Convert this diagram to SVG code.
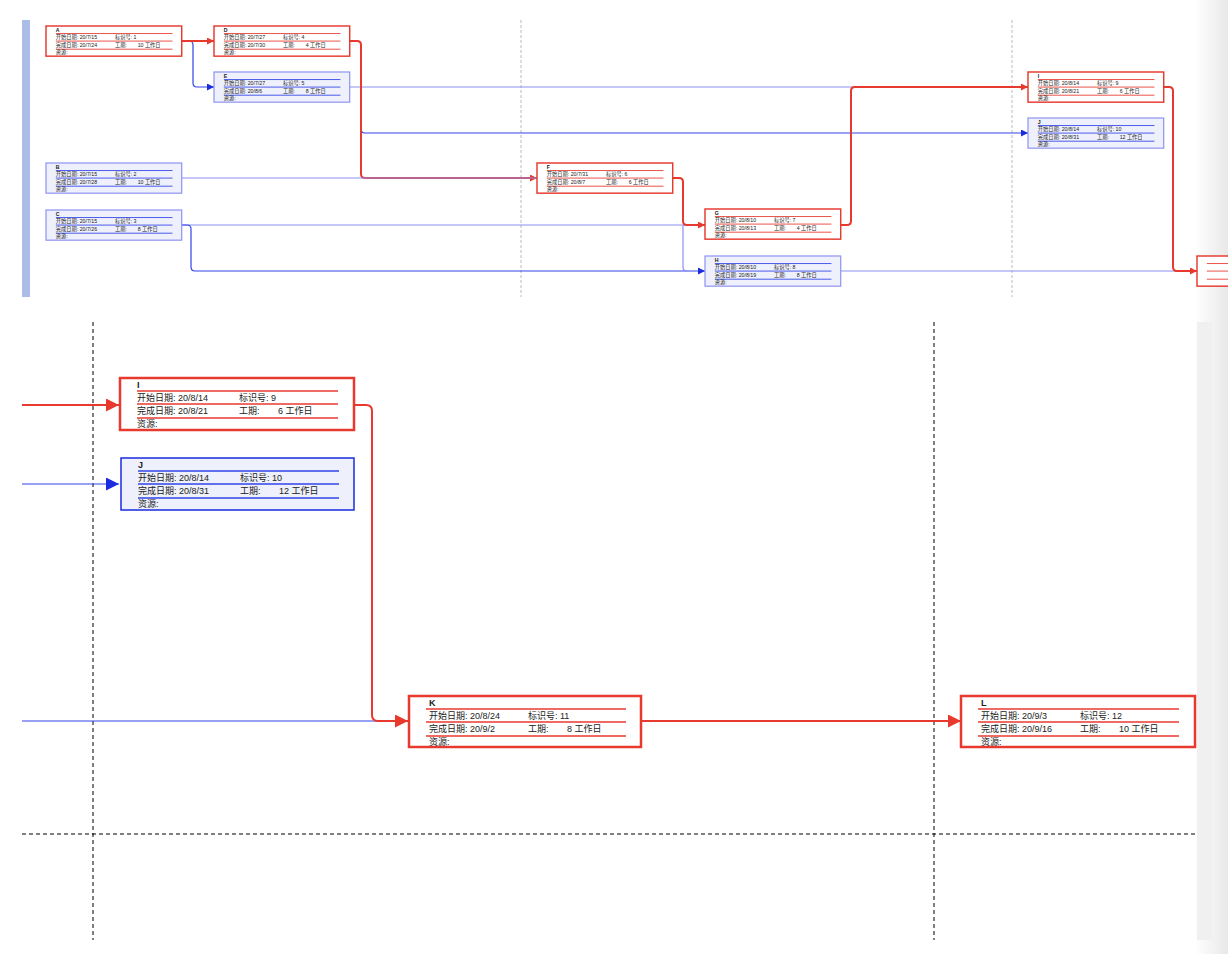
<svg xmlns="http://www.w3.org/2000/svg" width="1228" height="954" viewBox="0 0 1228 954">
<style>
.t{font-family:"Liberation Sans","Noto Sans CJK SC",sans-serif;font-size:9px;fill:#222}
.h{font-weight:bold}
.rb{fill:#fff;stroke:#e8392e;stroke-width:2.5}
.bb{fill:#eef0fc;stroke:#8a8ff0;stroke-width:2}
.bB{fill:#eef0fb;stroke:#1a2be0;stroke-width:1.5}
.rl{stroke:#e8392e;stroke-width:1.5}
.bl{stroke:#3344e8;stroke-width:1.5}
.r{fill:none;stroke:#e8392e;stroke-width:2}
.b{fill:none;stroke:#3344e8;stroke-width:1.2}
.bs{fill:none;stroke:#8a8ff0;stroke-width:1.2}
.d{stroke:#000;stroke-width:1;stroke-dasharray:4 3}
.g{stroke:#bbb;stroke-width:1;stroke-dasharray:3 2}
</style>
<defs>
<marker id="ar" viewBox="0 0 10 10" refX="10" refY="5" markerWidth="7" markerHeight="7" markerUnits="userSpaceOnUse" orient="auto"><path d="M0,0L10,5L0,10z" fill="#e8392e"/></marker>
<marker id="ab" viewBox="0 0 10 10" refX="10" refY="5" markerWidth="7" markerHeight="7" markerUnits="userSpaceOnUse" orient="auto"><path d="M0,0L10,5L0,10z" fill="#1a2be0"/></marker>
<marker id="AR" viewBox="0 0 10 10" refX="10" refY="5" markerWidth="13" markerHeight="13" markerUnits="userSpaceOnUse" orient="auto"><path d="M0,0L10,5L0,10z" fill="#e8392e"/></marker>
<marker id="AB" viewBox="0 0 10 10" refX="10" refY="5" markerWidth="13" markerHeight="13" markerUnits="userSpaceOnUse" orient="auto"><path d="M0,0L10,5L0,10z" fill="#1a2be0"/></marker>
<linearGradient id="sh" x1="0" x2="1"><stop offset="0" stop-color="#fff"/><stop offset="1" stop-color="#e8e8e8"/></linearGradient>
<clipPath id="cp"><rect x="0" y="0" width="1228" height="300"/></clipPath>
</defs>
<rect width="1228" height="954" fill="#fff"/>
<rect x="1195" y="0" width="33" height="954" fill="url(#sh)"/>
<rect x="1197" y="322" width="15" height="618" fill="#f0f0f0"/>
<rect x="22" y="20" width="8" height="277" fill="#a9bde6"/>
<line class="g" x1="521" y1="20" x2="521" y2="297"/>
<line class="g" x1="1012" y1="20" x2="1012" y2="297"/>
<line class="d" x1="93" y1="322" x2="93" y2="940"/>
<line class="d" x1="934" y1="322" x2="934" y2="940"/>
<line class="d" x1="22" y1="834" x2="1195" y2="834"/>
<g id="connectors">
<path class="b" d="M181,41H189Q193,41 193,45V83Q193,87 197,87H214" marker-end="url(#ab)" stroke="#3344e8"/>
<path class="r" d="M181,41H214" marker-end="url(#ar)"/>
<path class="b" d="M361,129Q361,133 365,133H1028" marker-end="url(#ab)"/>
<path class="bs" d="M350,87H1028"/>
<path class="r" d="M350,41H357Q361,41 361,45V174Q361,178 365,178H537" marker-end="url(#ar)"/>
<path class="bs" d="M182,178H537"/>
<path class="bs" d="M182,225H705"/>
<path class="b" d="M182,225H187Q191,225 191,229V267Q191,271 195,271H705" marker-end="url(#ab)"/>
<path class="bs" d="M683,225V267Q683,271 687,271"/>
<path class="r" d="M673,178H679Q683,178 683,182V221Q683,225 687,225H705" marker-end="url(#ar)"/>
<path class="r" d="M841,225H847Q851,225 851,221V91Q851,87 855,87H1028" marker-end="url(#ar)"/>
<path class="bs" d="M841,271H1197"/>
<path class="r" d="M1164,87H1169Q1173,87 1173,91V267Q1173,271 1177,271H1197" marker-end="url(#ar)"/>
<path class="r" d="M22,405H119" marker-end="url(#AR)"/>
<path class="b" d="M22,484H119" marker-end="url(#AB)"/>
<path class="b" d="M22,721H380"/>
<path class="r" d="M354,405H366Q372,405 372,411V715Q372,721 378,721H408" marker-end="url(#AR)"/>
<path class="r" d="M641,721H961" marker-end="url(#AR)"/>
</g>
<g id="A" transform="translate(46,26) scale(0.58)"><rect class="rb" width="234" height="52"/><g class="rl"><line x1="17" y1="13" x2="218" y2="13"/><line x1="17" y1="26" x2="218" y2="26"/><line x1="17" y1="40" x2="218" y2="40"/></g><text class="t h" x="17" y="10">A</text><text class="t" x="17" y="23">开始日期: 20/7/15</text><text class="t" x="119" y="23">标识号:  1</text><text class="t" x="17" y="36">完成日期: 20/7/24</text><text class="t" x="119" y="36">工期:</text><text class="t" x="158" y="36">10 工作日</text><text class="t" x="17" y="49">资源:</text></g>
<g id="D" transform="translate(214,26) scale(0.58)"><rect class="rb" width="234" height="52"/><g class="rl"><line x1="17" y1="13" x2="218" y2="13"/><line x1="17" y1="26" x2="218" y2="26"/><line x1="17" y1="40" x2="218" y2="40"/></g><text class="t h" x="17" y="10">D</text><text class="t" x="17" y="23">开始日期: 20/7/27</text><text class="t" x="119" y="23">标识号:  4</text><text class="t" x="17" y="36">完成日期: 20/7/30</text><text class="t" x="119" y="36">工期:</text><text class="t" x="158" y="36">4 工作日</text><text class="t" x="17" y="49">资源:</text></g>
<g id="E" transform="translate(214,72) scale(0.58)"><rect class="bb" width="234" height="52"/><g class="bl"><line x1="17" y1="13" x2="218" y2="13"/><line x1="17" y1="26" x2="218" y2="26"/><line x1="17" y1="40" x2="218" y2="40"/></g><text class="t h" x="17" y="10">E</text><text class="t" x="17" y="23">开始日期: 20/7/27</text><text class="t" x="119" y="23">标识号:  5</text><text class="t" x="17" y="36">完成日期: 20/8/6</text><text class="t" x="119" y="36">工期:</text><text class="t" x="158" y="36">8 工作日</text><text class="t" x="17" y="49">资源:</text></g>
<g id="B" transform="translate(46,163) scale(0.58)"><rect class="bb" width="234" height="52"/><g class="bl"><line x1="17" y1="13" x2="218" y2="13"/><line x1="17" y1="26" x2="218" y2="26"/><line x1="17" y1="40" x2="218" y2="40"/></g><text class="t h" x="17" y="10">B</text><text class="t" x="17" y="23">开始日期: 20/7/15</text><text class="t" x="119" y="23">标识号:  2</text><text class="t" x="17" y="36">完成日期: 20/7/28</text><text class="t" x="119" y="36">工期:</text><text class="t" x="158" y="36">10 工作日</text><text class="t" x="17" y="49">资源:</text></g>
<g id="C" transform="translate(46,210) scale(0.58)"><rect class="bb" width="234" height="52"/><g class="bl"><line x1="17" y1="13" x2="218" y2="13"/><line x1="17" y1="26" x2="218" y2="26"/><line x1="17" y1="40" x2="218" y2="40"/></g><text class="t h" x="17" y="10">C</text><text class="t" x="17" y="23">开始日期: 20/7/15</text><text class="t" x="119" y="23">标识号:  3</text><text class="t" x="17" y="36">完成日期: 20/7/26</text><text class="t" x="119" y="36">工期:</text><text class="t" x="158" y="36">8 工作日</text><text class="t" x="17" y="49">资源:</text></g>
<g id="F" transform="translate(537,163) scale(0.58)"><rect class="rb" width="234" height="52"/><g class="rl"><line x1="17" y1="13" x2="218" y2="13"/><line x1="17" y1="26" x2="218" y2="26"/><line x1="17" y1="40" x2="218" y2="40"/></g><text class="t h" x="17" y="10">F</text><text class="t" x="17" y="23">开始日期: 20/7/31</text><text class="t" x="119" y="23">标识号:  6</text><text class="t" x="17" y="36">完成日期: 20/8/7</text><text class="t" x="119" y="36">工期:</text><text class="t" x="158" y="36">6 工作日</text><text class="t" x="17" y="49">资源:</text></g>
<g id="G" transform="translate(705,209) scale(0.58)"><rect class="rb" width="234" height="52"/><g class="rl"><line x1="17" y1="13" x2="218" y2="13"/><line x1="17" y1="26" x2="218" y2="26"/><line x1="17" y1="40" x2="218" y2="40"/></g><text class="t h" x="17" y="10">G</text><text class="t" x="17" y="23">开始日期: 20/8/10</text><text class="t" x="119" y="23">标识号:  7</text><text class="t" x="17" y="36">完成日期: 20/8/13</text><text class="t" x="119" y="36">工期:</text><text class="t" x="158" y="36">4 工作日</text><text class="t" x="17" y="49">资源:</text></g>
<g id="H" transform="translate(705,256) scale(0.58)"><rect class="bb" width="234" height="52"/><g class="bl"><line x1="17" y1="13" x2="218" y2="13"/><line x1="17" y1="26" x2="218" y2="26"/><line x1="17" y1="40" x2="218" y2="40"/></g><text class="t h" x="17" y="10">H</text><text class="t" x="17" y="23">开始日期: 20/8/10</text><text class="t" x="119" y="23">标识号:  8</text><text class="t" x="17" y="36">完成日期: 20/8/19</text><text class="t" x="119" y="36">工期:</text><text class="t" x="158" y="36">8 工作日</text><text class="t" x="17" y="49">资源:</text></g>
<g id="I-top" transform="translate(1028,72) scale(0.58)"><rect class="rb" width="234" height="52"/><g class="rl"><line x1="17" y1="13" x2="218" y2="13"/><line x1="17" y1="26" x2="218" y2="26"/><line x1="17" y1="40" x2="218" y2="40"/></g><text class="t h" x="17" y="10">I</text><text class="t" x="17" y="23">开始日期: 20/8/14</text><text class="t" x="119" y="23">标识号:  9</text><text class="t" x="17" y="36">完成日期: 20/8/21</text><text class="t" x="119" y="36">工期:</text><text class="t" x="158" y="36">6 工作日</text><text class="t" x="17" y="49">资源:</text></g>
<g id="J-top" transform="translate(1028,118) scale(0.58)"><rect class="bb" width="234" height="52"/><g class="bl"><line x1="17" y1="13" x2="218" y2="13"/><line x1="17" y1="26" x2="218" y2="26"/><line x1="17" y1="40" x2="218" y2="40"/></g><text class="t h" x="17" y="10">J</text><text class="t" x="17" y="23">开始日期: 20/8/14</text><text class="t" x="119" y="23">标识号:  10</text><text class="t" x="17" y="36">完成日期: 20/8/31</text><text class="t" x="119" y="36">工期:</text><text class="t" x="158" y="36">12 工作日</text><text class="t" x="17" y="49">资源:</text></g>
<g id="K-top" transform="translate(1197,256) scale(0.58)"><rect class="rb" width="234" height="52"/><g class="rl"><line x1="17" y1="13" x2="218" y2="13"/><line x1="17" y1="26" x2="218" y2="26"/><line x1="17" y1="40" x2="218" y2="40"/></g></g>
<g id="I" transform="translate(120,378)"><rect class="rb" width="234" height="52"/><g class="rl"><line x1="17" y1="13" x2="218" y2="13"/><line x1="17" y1="26" x2="218" y2="26"/><line x1="17" y1="40" x2="218" y2="40"/></g><text class="t h" x="17" y="10">I</text><text class="t" x="17" y="23">开始日期: 20/8/14</text><text class="t" x="119" y="23">标识号:  9</text><text class="t" x="17" y="36">完成日期: 20/8/21</text><text class="t" x="119" y="36">工期:</text><text class="t" x="158" y="36">6 工作日</text><text class="t" x="17" y="49">资源:</text></g>
<g id="J" transform="translate(121,458)"><rect class="bB" width="233" height="52"/><g class="bl"><line x1="17" y1="13" x2="218" y2="13"/><line x1="17" y1="26" x2="218" y2="26"/><line x1="17" y1="40" x2="218" y2="40"/></g><text class="t h" x="17" y="10">J</text><text class="t" x="17" y="23">开始日期: 20/8/14</text><text class="t" x="119" y="23">标识号:  10</text><text class="t" x="17" y="36">完成日期: 20/8/31</text><text class="t" x="119" y="36">工期:</text><text class="t" x="158" y="36">12 工作日</text><text class="t" x="17" y="49">资源:</text></g>
<g id="K" transform="translate(409,696)"><rect class="rb" width="232" height="51"/><g class="rl"><line x1="17" y1="13" x2="217" y2="13"/><line x1="17" y1="26" x2="217" y2="26"/><line x1="17" y1="40" x2="217" y2="40"/></g><text class="t h" x="20" y="10">K</text><text class="t" x="20" y="23">开始日期: 20/8/24</text><text class="t" x="119" y="23">标识号:  11</text><text class="t" x="20" y="36">完成日期: 20/9/2</text><text class="t" x="119" y="36">工期:</text><text class="t" x="158" y="36">8 工作日</text><text class="t" x="20" y="49">资源:</text></g>
<g id="L" transform="translate(961,696)"><rect class="rb" width="234" height="51"/><g class="rl"><line x1="17" y1="13" x2="218" y2="13"/><line x1="17" y1="26" x2="218" y2="26"/><line x1="17" y1="40" x2="218" y2="40"/></g><text class="t h" x="20" y="10">L</text><text class="t" x="20" y="23">开始日期: 20/9/3</text><text class="t" x="119" y="23">标识号:  12</text><text class="t" x="20" y="36">完成日期: 20/9/16</text><text class="t" x="119" y="36">工期:</text><text class="t" x="158" y="36">10 工作日</text><text class="t" x="20" y="49">资源:</text></g>
</svg>
